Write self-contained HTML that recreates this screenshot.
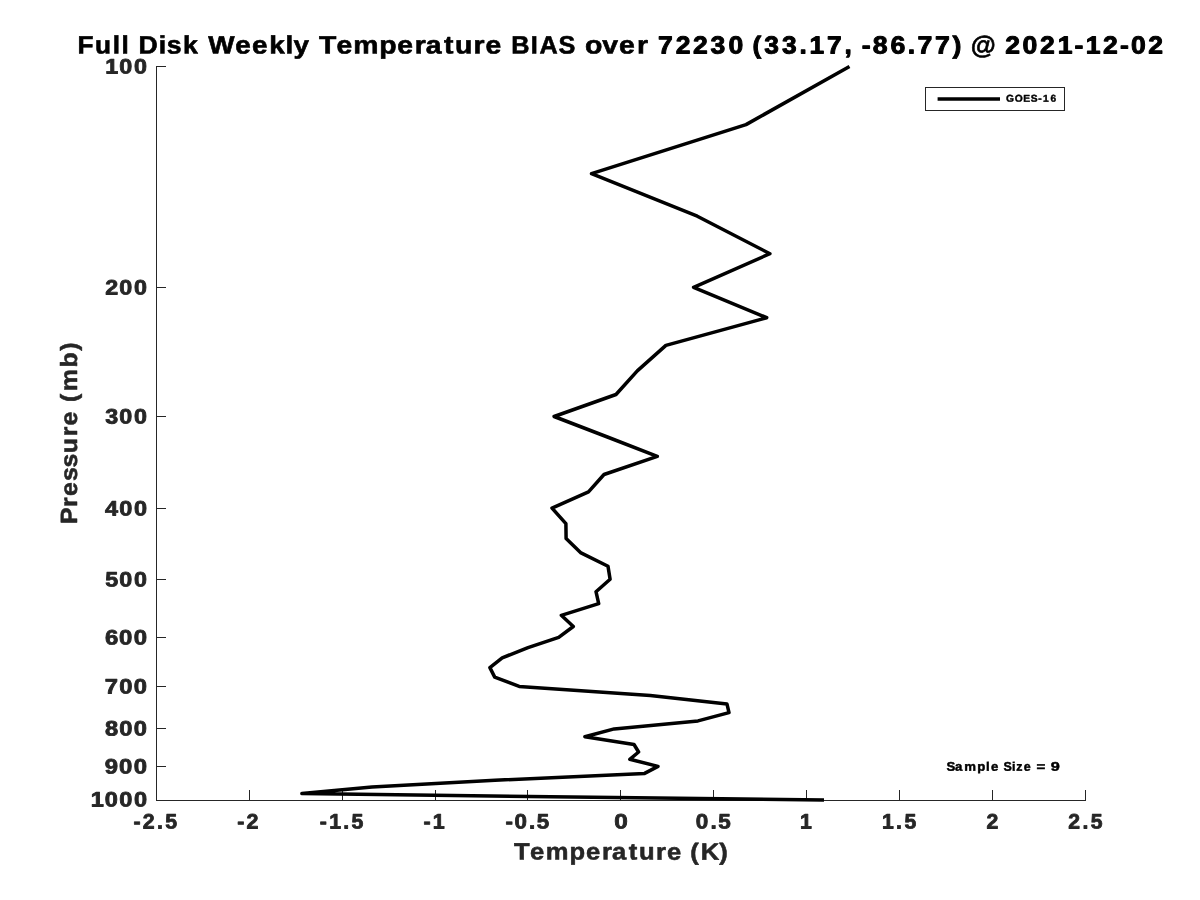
<!DOCTYPE html>
<html><head><meta charset="utf-8"><title>Full Disk Weekly Temperature BIAS</title>
<style>html,body{margin:0;padding:0;background:#fff;}body{width:1200px;height:900px;overflow:hidden;position:relative;font-family:"Liberation Sans",sans-serif;}svg{display:block;position:absolute;left:0;top:0;will-change:transform;opacity:0.9999}</style>
</head><body>
<svg width="1200" height="900" viewBox="0 0 1200 900">
<rect width="1200" height="900" fill="#fff"/>
<g stroke="#262626" stroke-width="1" fill="none" shape-rendering="crispEdges">
<path d="M156.5 66.0V801.0M156.0 800.5H1086.0"/>
<path d="M156.5 800.5V790.0M249.5 800.5V790.0M342.5 800.5V790.0M435.5 800.5V790.0M527.5 800.5V790.0M620.5 800.5V790.0M713.5 800.5V790.0M806.5 800.5V790.0M899.5 800.5V790.0M992.5 800.5V790.0M1085.5 800.5V790.0M156.5 66.5H166.0M156.5 287.5H166.0M156.5 416.5H166.0M156.5 508.5H166.0M156.5 579.5H166.0M156.5 637.5H166.0M156.5 686.5H166.0M156.5 728.5H166.0M156.5 766.5H166.0M156.5 800.5H166.0"/>
</g>
<polyline points="849.5,66.5 746.0,124.6 591.5,173.7 697.3,216.2 769.9,253.7 693.6,287.3 766.7,317.7 665.9,345.4 637.3,370.9 616.0,394.5 554.1,416.5 607.4,437.0 657.3,456.3 604.0,474.5 588.5,491.8 552.0,508.1 565.9,523.7 566.1,538.5 580.5,552.6 608.0,566.2 610.1,579.2 596.0,591.7 598.7,603.7 561.3,615.3 573.3,626.5 558.7,637.3 528.0,647.7 502.2,657.8 489.9,667.6 494.7,677.1 519.2,686.4 650.3,695.4 727.0,704.1 729.0,712.6 698.0,720.9 614.2,728.9 584.9,736.8 634.0,744.5 638.6,752.0 629.8,759.3 658.0,766.4 644.6,773.4 495.0,780.3 372.0,787.0 301.9,793.6 824.0,800.0" fill="none" stroke="#000" stroke-width="3.5" stroke-linejoin="round" stroke-linecap="butt"/>
<g font-family="Liberation Sans, sans-serif" font-weight="bold" style="font-kerning:none" text-rendering="geometricPrecision" stroke-linejoin="round">
<text transform="matrix(1.0432,0.001,0,1,0,-0.095)" x="74.35 91.06 108.09 116.53" y="53.50" font-size="25.14" fill="#000" stroke="#000" stroke-width="0.6">Full</text>
<text transform="matrix(1.0604,0.001,0,1,0,-0.152)" x="130.65 149.74 157.28 172.70" y="53.50" font-size="25.14" fill="#000" stroke="#000" stroke-width="0.6">Disk</text>
<text transform="matrix(1.1108,0.001,0,1,0,-0.226)" x="187.53 211.77 226.96 242.39 256.93 264.30" y="53.50" font-size="25.14" fill="#000" stroke="#000" stroke-width="0.6">Weekly</text>
<text transform="matrix(1.1286,0.001,0,1,0,-0.356)" x="282.75 298.10 313.06 336.13 352.00 367.44 377.16 393.45 403.21 419.60 430.21" y="53.50" font-size="25.14" fill="#000" stroke="#000" stroke-width="0.6">Temperature</text>
<text transform="matrix(1.0049,0.001,0,1,0,-0.532)" x="508.81 528.15 536.94 555.81" y="53.50" font-size="25.14" fill="#000" stroke="#000" stroke-width="0.6">BIAS</text>
<text transform="matrix(1.1330,0.001,0,1,0,-0.539)" x="516.28 531.62 546.33 562.24" y="53.50" font-size="25.14" fill="#000" stroke="#000" stroke-width="0.6">over</text>
<text transform="matrix(1.0763,0.001,0,1,0,-0.644)" x="611.39 627.76 643.90 660.08 676.85" y="53.50" font-size="24.63" fill="#000" stroke="#000" stroke-width="0.95">72230</text>
<text transform="matrix(1.0683,0.001,0,1,0,-0.747)" x="704.41 715.48 732.09 748.36 757.85 774.22 790.48" y="53.50" font-size="24.63" fill="#000" stroke="#000" stroke-width="0.95">(33.17,</text>
<text transform="matrix(1.0826,0.001,0,1,0,-0.838)" x="796.11 806.25 822.58 838.47 847.43 863.65 879.95" y="53.50" font-size="24.63" fill="#000" stroke="#000" stroke-width="0.95">-86.77)</text>
<text transform="matrix(1.0172,0.001,0,1,0,-0.954)" x="954.42" y="53.50" font-size="25.14" fill="#000" stroke="#000" stroke-width="0.6">@</text>
<text transform="matrix(1.0778,0.001,0,1,0,-0.999)" x="932.75 948.81 965.01 981.36 997.00 1007.29 1023.43 1039.18 1049.40 1065.37" y="53.50" font-size="24.63" fill="#000" stroke="#000" stroke-width="0.95">2021-12-02</text>
<text transform="matrix(1.1153,0.001,0,1,0,-0.107)" x="94.45 106.95 120.18" y="73.60" font-size="20.91" fill="#262626" stroke="#262626" stroke-width="0.8">100</text>
<text transform="matrix(1.1138,0.001,0,1,0,-0.107)" x="94.54 107.11 120.36" y="294.60" font-size="20.91" fill="#262626" stroke="#262626" stroke-width="0.8">200</text>
<text transform="matrix(1.1151,0.001,0,1,0,-0.107)" x="94.45 106.98 120.21" y="423.60" font-size="20.91" fill="#262626" stroke="#262626" stroke-width="0.8">300</text>
<text transform="matrix(1.1229,0.001,0,1,0,-0.106)" x="93.55 106.20 119.30" y="515.60" font-size="20.91" fill="#262626" stroke="#262626" stroke-width="0.8">400</text>
<text transform="matrix(1.1144,0.001,0,1,0,-0.107)" x="94.53 107.04 120.28" y="586.60" font-size="20.91" fill="#262626" stroke="#262626" stroke-width="0.8">500</text>
<text transform="matrix(1.1447,0.001,0,1,0,-0.104)" x="91.63 104.06 116.81" y="644.60" font-size="20.91" fill="#262626" stroke="#262626" stroke-width="0.8">600</text>
<text transform="matrix(1.1353,0.001,0,1,0,-0.105)" x="92.35 104.97 117.87" y="693.60" font-size="20.91" fill="#262626" stroke="#262626" stroke-width="0.8">700</text>
<text transform="matrix(1.1325,0.001,0,1,0,-0.105)" x="92.70 105.24 118.19" y="735.60" font-size="20.91" fill="#262626" stroke="#262626" stroke-width="0.8">800</text>
<text transform="matrix(1.1440,0.001,0,1,0,-0.104)" x="91.54 104.13 116.89" y="773.60" font-size="20.91" fill="#262626" stroke="#262626" stroke-width="0.8">900</text>
<text transform="matrix(1.1274,0.001,0,1,0,-0.100)" x="80.57 92.89 105.74 118.77" y="806.60" font-size="20.91" fill="#262626" stroke="#262626" stroke-width="0.8">1000</text>
<text transform="matrix(1.0184,0.001,0,1,0,-0.147)" x="131.18 140.26 154.20 162.34" y="828.50" font-size="20.91" fill="#262626" stroke="#262626" stroke-width="0.8">-2.5</text>
<text transform="matrix(1.0264,0.001,0,1,0,-0.236)" x="231.27 240.18" y="828.50" font-size="20.91" fill="#262626" stroke="#262626" stroke-width="0.8">-2</text>
<text transform="matrix(1.0190,0.001,0,1,0,-0.329)" x="313.84 323.02 336.85 344.98" y="828.50" font-size="20.91" fill="#262626" stroke="#262626" stroke-width="0.8">-1.5</text>
<text transform="matrix(1.0276,0.001,0,1,0,-0.417)" x="412.11 421.11" y="828.50" font-size="20.91" fill="#262626" stroke="#262626" stroke-width="0.8">-1</text>
<text transform="matrix(1.0684,0.001,0,1,0,-0.488)" x="473.22 481.65 495.05 502.40" y="828.50" font-size="20.91" fill="#262626" stroke="#262626" stroke-width="0.8">-0.5</text>
<text transform="matrix(1.1635,0.001,0,1,0,-0.528)" x="528.04" y="828.50" font-size="20.91" fill="#262626" stroke="#262626" stroke-width="0.8">0</text>
<text transform="matrix(1.0738,0.001,0,1,0,-0.658)" x="647.91 661.70 668.97" y="828.50" font-size="20.91" fill="#262626" stroke="#262626" stroke-width="0.8">0.5</text>
<text transform="matrix(1.0171,0.001,0,1,0,-0.787)" x="786.62" y="828.50" font-size="20.91" fill="#262626" stroke="#262626" stroke-width="0.8">1</text>
<text transform="matrix(1.0126,0.001,0,1,0,-0.882)" x="870.97 884.89 893.13" y="828.50" font-size="20.91" fill="#262626" stroke="#262626" stroke-width="0.8">1.5</text>
<text transform="matrix(1.0156,0.001,0,1,0,-0.971)" x="971.43" y="828.50" font-size="20.91" fill="#262626" stroke="#262626" stroke-width="0.8">2</text>
<text transform="matrix(1.0120,0.001,0,1,0,-1.067)" x="1055.54 1069.57 1077.82" y="828.50" font-size="20.91" fill="#262626" stroke="#262626" stroke-width="0.8">2.5</text>
<text transform="matrix(1.0886,0.001,0,1,0,-0.566)" x="472.17 486.94 501.27 523.18 538.27 552.95 562.24 577.70 587.06 602.64 612.65 625.70 634.17 643.70 660.63" y="859.60" font-size="23.47" fill="#262626" stroke="#262626" stroke-width="0.55">Temperature (K)</text>
<text transform="translate(76.5,0) rotate(-90) scale(1.0592,1)" x="-494.79 -478.56 -468.23 -454.21 -441.32 -427.94 -411.98 -401.66 -388.61 -379.60 -369.38 -346.95 -331.04" y="0.00" font-size="23.47" fill="#262626" stroke="#262626" stroke-width="0.55">Pressure (mb)</text>
</g>
<rect x="925.5" y="87.5" width="139" height="23" fill="#fff" stroke="#262626" stroke-width="1" shape-rendering="crispEdges"/>
<line x1="937.6" y1="98.9" x2="1000" y2="98.9" stroke="#000" stroke-width="3.5"/>
<g font-family="Liberation Sans, sans-serif" font-weight="bold" style="font-kerning:none" text-rendering="geometricPrecision" stroke-linejoin="round">
<text transform="matrix(1.0246,0.001,0,1,0,-1.004)" x="981.89 990.40 998.72 1005.96 1013.38 1017.97 1025.39" y="101.70" font-size="10.01" fill="#000" stroke="#000" stroke-width="0.4">GOES-16</text>
<text transform="matrix(1.0480,0.001,0,1,0,-0.924)" x="903.09 911.24 919.99 932.47 940.91 945.57" y="770.70" font-size="12.59" fill="#000" stroke="#000" stroke-width="0.45">Sample</text>
<text transform="matrix(0.9897,0.001,0,1,0,-1.024)" x="1014.06 1022.55 1026.79 1034.53" y="770.70" font-size="12.59" fill="#000" stroke="#000" stroke-width="0.45">Size</text>
<text transform="matrix(1.1975,0.001,0,1,0,-0.866)" x="865.56" y="770.70" font-size="12.59" fill="#000" stroke="#000" stroke-width="0.45">=</text>
<text transform="matrix(1.2980,0.001,0,1,0,-0.809)" x="809.44" y="770.70" font-size="12.59" fill="#000" stroke="#000" stroke-width="0.45">9</text>
</g>
</svg>
</body></html>
